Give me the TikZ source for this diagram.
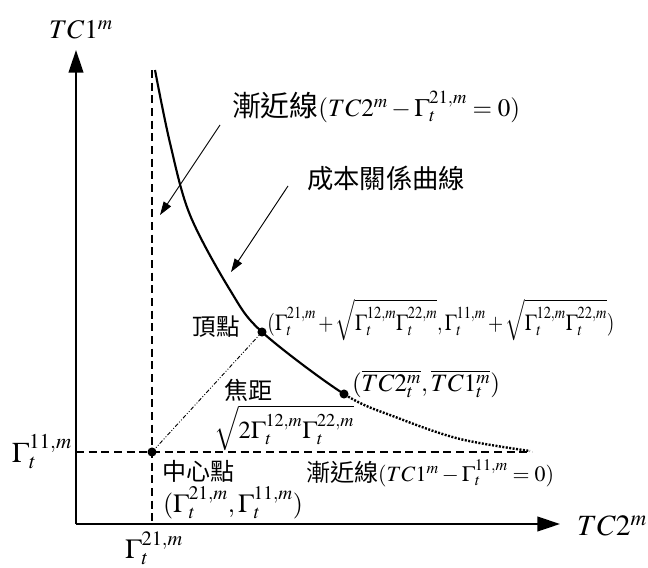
\documentclass[tikz,border=0pt]{standalone}
\usepackage{mathptmx}
\usepackage[no-math]{fontspec}
\setmainfont{Liberation Serif}
\newfontfamily\cjk{Noto Sans CJK TC}
\usepackage{graphicx}
\usetikzlibrary{arrows.meta}
\newdimen\mypx \mypx=0.75pt
\newcommand\fitpx[2]{\resizebox{#1\mypx}{!}{#2}}
\newcommand\fitwh[3]{\resizebox*{#1\mypx}{#2\mypx}{#3}}
\begin{document}
\begin{tikzpicture}[x=0.75pt,y=-0.75pt,
  axis/.style={line width=1.5pt,-{Triangle[length=17pt,width=11pt]}},
  asym/.style={line width=1.2pt,dash pattern=on 6pt off 3.5pt},
  solidcurve/.style={line width=1.6pt},
  dotcurve/.style={line width=1.8pt,dash pattern=on 1.5pt off 1.1pt},
  focal/.style={line width=0.7pt,dash pattern=on 3pt off 1.4pt on 0.7pt off 1.4pt on 0.7pt off 1.4pt},
  pointer/.style={line width=0.7pt,-{Triangle[length=10pt,width=6.5pt]}},
  lbl/.style={inner sep=0pt,font=\fontsize{20}{24}\selectfont},
  dotn/.style={circle,fill=black,inner sep=0pt,minimum size=6.8pt}]
\useasboundingbox (0,0) rectangle (648,567);
% axes
\coordinate (O) at (76,524);
\coordinate (Ytop) at (76,50);
\coordinate (Xend) at (560,524);
\draw[axis] (O) -- (Ytop);
\draw[axis] (O) -- (Xend);
% asymptotes
\coordinate (vtop) at (152,70);
\coordinate (vbot) at (152,524);
\coordinate (hstart) at (76,452);
\coordinate (hend) at (532,452);
\draw[asym] (vtop) -- (vbot);
\draw[asym] (hstart) -- (hend);
% curve
\def\curvepts{(155,70) (170,143) (190,215) (230,290) (262,332) (344,394) (398,418) (460,439) (530,451)}
\begin{scope}
\clip (0,0) rectangle (344,567);
\draw[solidcurve] plot[smooth,tension=0.55] coordinates {\curvepts};
\end{scope}
\begin{scope}
\clip (344,0) rectangle (648,567);
\draw[dotcurve] plot[smooth,tension=0.55] coordinates {\curvepts};
\end{scope}
% points
\node[dotn] (C) at (152,452) {};
\node[dotn] (V) at (262,332) {};
\node[dotn] (P) at (344,394) {};
\draw[focal] (C.center) -- (V.center);
% pointers
\coordinate (a1s) at (220,125);
\coordinate (a1e) at (160,215);
\coordinate (a2s) at (288,186);
\coordinate (a2e) at (231,272);
\draw[pointer] (a1s) -- (a1e);
\draw[pointer] (a2s) -- (a2e);
% labels
\node[lbl] (ylab) at (81,30) {\fitpx{64}{$TC1^{m}$}};
\node[lbl] (xlab) at (612,526) {\fitpx{70}{$TC2^{m}$}};
\node[lbl] (asym1) at (376,107) {\fitpx{288}{{\cjk\fontsize{23}{23}\selectfont 漸近線}$(TC2^{m}-\Gamma_t^{21,m}=0)$}};
\node[lbl] (curvelab) at (386,178) {\fitpx{158}{\cjk 成本關係曲線}};
\node[lbl] (vlab) at (216,327) {\fitpx{47}{\cjk 頂點}};
\node[lbl] (vform) at (441,320) {\fitwh{347}{42}{\medmuskip=2mu\relax$(\Gamma_t^{21,m}+\sqrt{\Gamma_t^{12,m}\Gamma_t^{22,m}},\Gamma_t^{11,m}+\sqrt{\Gamma_t^{12,m}\Gamma_t^{22,m}})$}};
\node[lbl] (pform) at (426,384) {\fitpx{148}{$(\overline{TC2_t^{m}},\overline{TC1_t^{m}})$}};
\node[lbl] (flab) at (248,390) {\fitpx{48}{\cjk 焦距}};
\node[lbl] (fform) at (284,428) {\fitpx{140}{$\sqrt{2\Gamma_t^{12,m}\Gamma_t^{22,m}}$}};
\node[lbl] (clab) at (198,471) {\fitpx{72}{\cjk 中心點}};
\node[lbl] (cform) at (233,503) {\fitpx{140}{$(\Gamma_t^{21,m},\Gamma_t^{11,m})$}};
\node[lbl] (asym2) at (430,473) {\fitpx{248}{{\cjk\fontsize{22}{22}\selectfont 漸近線}$(TC1^{m}-\Gamma_t^{11,m}=0)$}};
\node[lbl] (g11) at (42,452) {\fitpx{60}{$\Gamma_t^{11,m}$}};
\node[lbl] (g21) at (154,548) {\fitpx{58}{$\Gamma_t^{21,m}$}};
\end{tikzpicture}
\end{document}
